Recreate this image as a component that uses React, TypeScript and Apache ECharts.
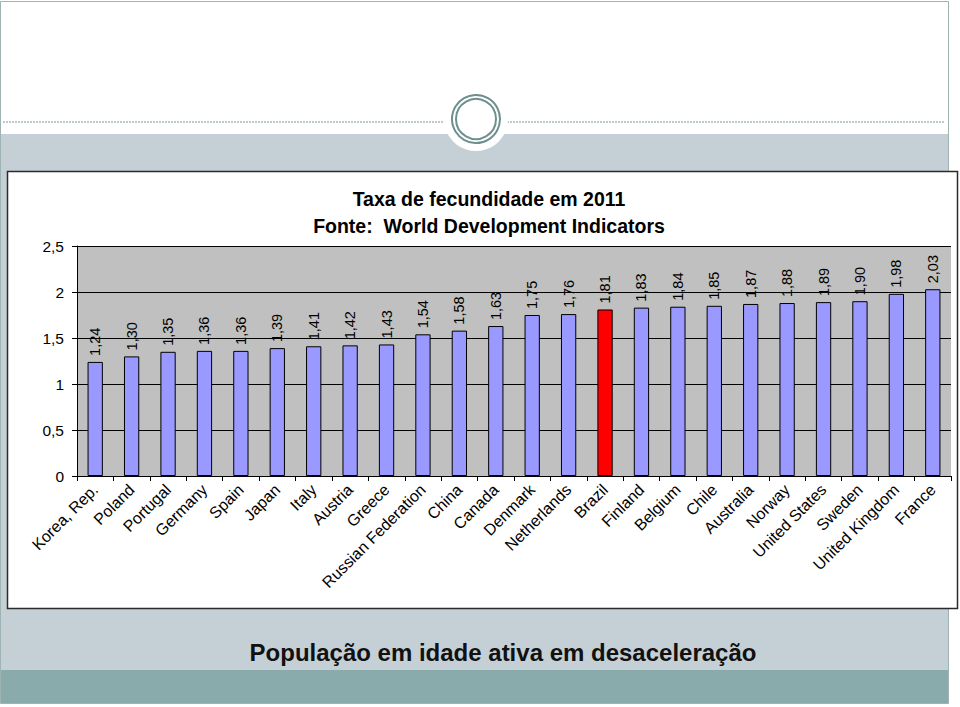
import React, { useEffect, useRef } from "react";
import * as echarts from "echarts";

const countries = [
  "Korea, Rep.", "Poland", "Portugal", "Germany", "Spain", "Japan", "Italy", "Austria",
  "Greece", "Russian Federation", "China", "Canada", "Denmark", "Netherlands", "Brazil",
  "Finland", "Belgium", "Chile", "Australia", "Norway", "United States", "Sweden",
  "United Kingdom", "France",
];
const fertility = [
  1.24, 1.30, 1.35, 1.36, 1.36, 1.39, 1.41, 1.42, 1.43, 1.54, 1.58, 1.63, 1.75, 1.76,
  1.81, 1.83, 1.84, 1.85, 1.87, 1.88, 1.89, 1.90, 1.98, 2.03,
];
const highlighted = "Brazil";
const yTicks = [0, 0.5, 1, 1.5, 2, 2.5];
const chartTitle = "Taxa de fecundidade em 2011\nFonte:  World Development Indicators";
const slideTitle = "População em idade ativa em desaceleração";

const FONT = "Arial, 'Liberation Sans', sans-serif";

export default function App() {
  const ref = useRef<HTMLDivElement>(null);
  useEffect(() => {
    if (!ref.current) return;
    const chart = echarts.init(ref.current, null, { renderer: "svg" });
    const fmt = (v: number) => String(v).replace(".", ",");
    chart.setOption({
      animation: false,
      backgroundColor: "#ffffff",
      title: {
        text: chartTitle,
        left: 484,
        top: 180,
        textAlign: "center",
        textStyle: { fontFamily: FONT, fontSize: 19.5, fontWeight: "bold", color: "#000", lineHeight: 27 },
      },
      grid: {
        left: 77,
        right: 9,
        top: 246,
        bottom: 231,
        show: true,
        backgroundColor: "#c0c0c0",
        borderWidth: 0,
      },
      xAxis: {
        type: "category",
        data: countries,
        axisLine: { lineStyle: { color: "#000", width: 1 } },
        axisTick: { show: true, length: 5, lineStyle: { color: "#000" } },
        axisLabel: {
          interval: 0,
          rotate: 45,
          fontFamily: FONT,
          fontSize: 16,
          color: "#000",
          margin: 11,
        },
      },
      yAxis: {
        type: "value",
        min: 0,
        max: 2.5,
        interval: 0.5,
        axisLine: { show: true, lineStyle: { color: "#000", width: 1 } },
        axisTick: { show: true, length: 5, lineStyle: { color: "#000" } },
        splitLine: { show: true, lineStyle: { color: "#000", width: 1 } },
        axisLabel: {
          fontFamily: FONT,
          fontSize: 15.5,
          color: "#000",
          margin: 13,
          formatter: (v: number) => (yTicks.includes(v) ? fmt(v) : ""),
        },
      },
      series: [
        {
          type: "bar",
          barWidth: "42%",
          data: fertility.map((v, i) => ({
            value: v,
            itemStyle: { color: countries[i] === highlighted ? "#ff0000" : "#9999ff" },
          })),
          itemStyle: { borderColor: "#000", borderWidth: 1 },
          label: {
            show: true,
            position: "top",
            rotate: 90,
            align: "left",
            verticalAlign: "middle",
            distance: 6,
            fontFamily: FONT,
            fontSize: 14.5,
            color: "#000",
            formatter: (p: any) => Number(p.value).toFixed(2).replace(".", ","),
          },
        },
      ],
      graphic: [
        { type: "rect", z: -20, silent: true, shape: { x: 0, y: 0, width: 960, height: 707 }, style: { fill: "#ffffff" } },
        { type: "rect", z: -19, silent: true, shape: { x: 1, y: 134, width: 947, height: 536 }, style: { fill: "#c5d0d6" } },
        { type: "rect", z: -19, silent: true, shape: { x: 1, y: 670, width: 947, height: 33 }, style: { fill: "#8aabab" } },
        { type: "rect", z: -18, silent: true, shape: { x: 0.5, y: 1.5, width: 948, height: 702 }, style: { fill: "none", stroke: "#9fb3b3", lineWidth: 1 } },
        { type: "line", z: -18, silent: true, shape: { x1: 3, y1: 122, x2: 945, y2: 122 }, style: { stroke: "#7f9595", lineWidth: 1, lineDash: [2, 1] } },
        { type: "circle", z: -17, silent: true, shape: { cx: 476, cy: 119, r: 32 }, style: { fill: "#ffffff" } },
        { type: "circle", z: -16, silent: true, shape: { cx: 476, cy: 119, r: 24 }, style: { fill: "#ffffff", stroke: "#6f8f8f", lineWidth: 2 } },
        { type: "circle", z: -16, silent: true, shape: { cx: 476, cy: 119, r: 20 }, style: { fill: "none", stroke: "#6f8f8f", lineWidth: 2 } },
        { type: "rect", z: -15, silent: true, shape: { x: 7.5, y: 171.5, width: 950, height: 437 }, style: { fill: "#ffffff", stroke: "#2b2b2b", lineWidth: 1.5 } },
        {
          type: "text",
          z: 5,
          silent: true,
          x: 503,
          y: 652,
          style: {
            text: slideTitle,
            fontFamily: FONT,
            fontSize: 24,
            fontWeight: "bold",
            fill: "#111",
            align: "center",
            verticalAlign: "middle",
          },
        },
      ],
    });
    return () => chart.dispose();
  }, []);
  return (
    <div
      ref={ref}
      style={{ position: "fixed", left: 0, top: 0, width: 960, height: 707 }}
    />
  );
}
